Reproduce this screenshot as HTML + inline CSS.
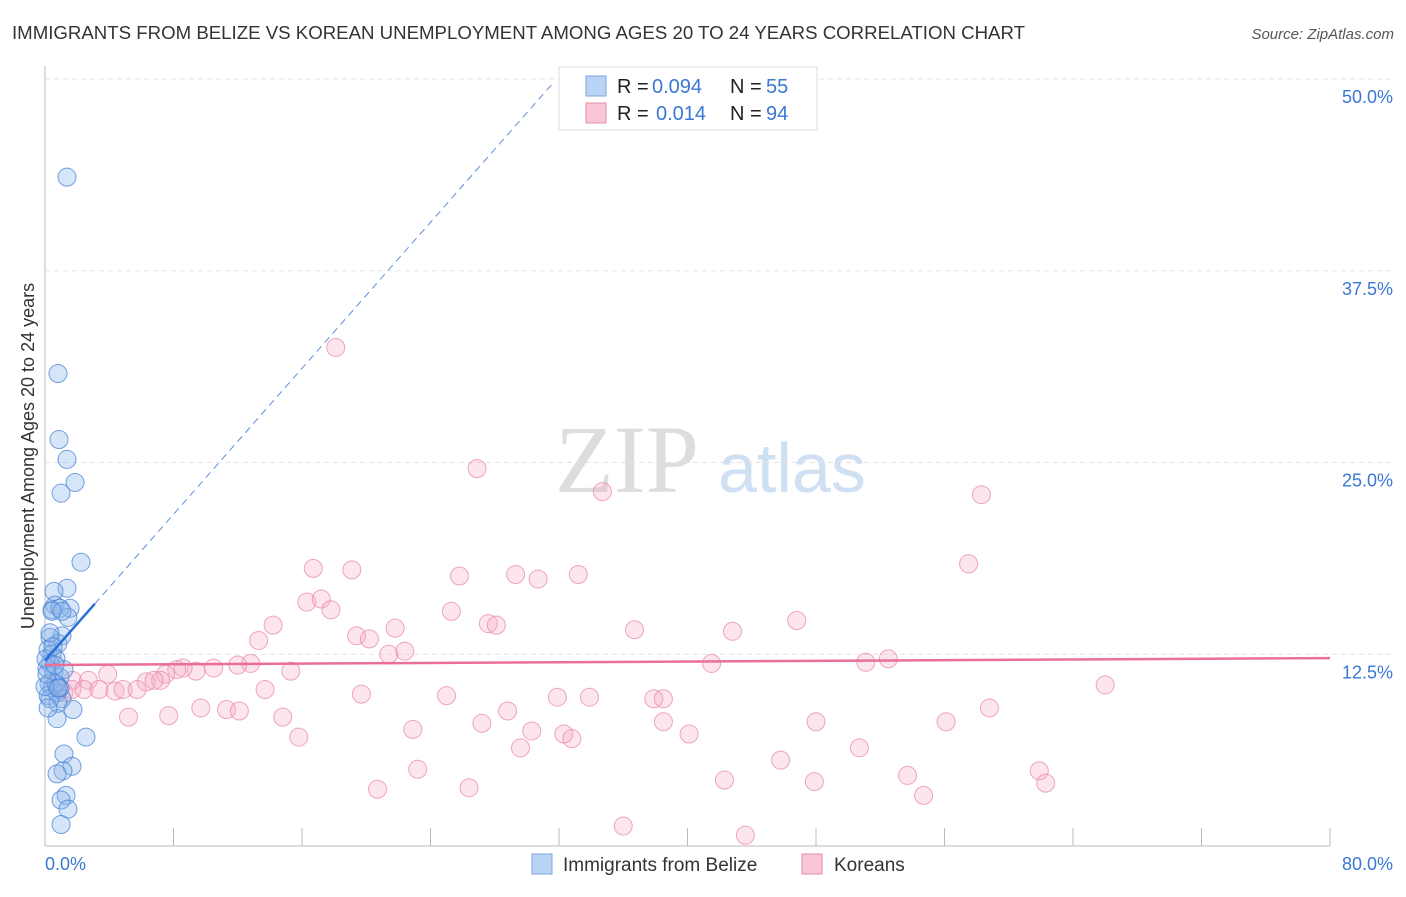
<!DOCTYPE html>
<html><head><meta charset="utf-8"><style>
body{margin:0;background:#fff;font-family:"Liberation Sans",sans-serif}
</style></head><body>
<svg width="1406" height="892" xmlns="http://www.w3.org/2000/svg" id="svg">
<text x="12" y="39" font-size="18" fill="#333" textLength="1013" lengthAdjust="spacingAndGlyphs">IMMIGRANTS FROM BELIZE VS KOREAN UNEMPLOYMENT AMONG AGES 20 TO 24 YEARS CORRELATION CHART</text>
<text x="1394" y="39" font-size="15" fill="#555" font-style="italic" text-anchor="end">Source: ZipAtlas.com</text>
<text x="555" y="492" font-size="96" font-family="Liberation Serif,serif" fill="#ddd">ZIP</text>
<text x="718" y="492" font-size="70" fill="#cfe0f3">atlas</text>
<text transform="translate(34,456) rotate(-90)" font-size="18" fill="#333" text-anchor="middle">Unemployment Among Ages 20 to 24 years</text>
<g id="grid"></g><g id="pts"></g><g id="lines"></g>
<g>
<rect x="559" y="67" width="258" height="63" fill="#fff" stroke="#ddd"/>
<rect x="586" y="76" width="20" height="20" fill="#b9d3f5" stroke="#7aa6e0"/>
<rect x="586" y="103" width="20" height="20" fill="#f9c6d5" stroke="#e88fab"/>
<text x="617" y="93" font-size="20" fill="#222">R =</text>
<text x="652" y="93" font-size="20" fill="#3a78d4">0.094</text>
<text x="730" y="93" font-size="20" fill="#222">N =</text>
<text x="766" y="93" font-size="20" fill="#3a78d4">55</text>
<text x="617" y="120" font-size="20" fill="#222">R =</text>
<text x="656" y="120" font-size="20" fill="#3a78d4">0.014</text>
<text x="730" y="120" font-size="20" fill="#222">N =</text>
<text x="766" y="120" font-size="20" fill="#3a78d4">94</text>
</g>
<g>
<rect x="532" y="854" width="20" height="20" fill="#b9d3f5" stroke="#7aa6e0"/>
<text x="563" y="871" font-size="19" fill="#333">Immigrants from Belize</text>
<rect x="802" y="854" width="20" height="20" fill="#f9c6d5" stroke="#e88fab"/>
<text x="834" y="871" font-size="19" fill="#333">Koreans</text>
</g>
</svg>
<script>
const yTicks=[12.5,25,37.5,50];
const yTickLabels=["12.5%","25.0%","37.5%","50.0%"];
const xEndLabels=["0.0%","80.0%"];
const belizeX=[1.37,0.81,0.87,1.37,1,1.87,2.24,1.37,0.56,0.62,1.56,0.44,0.93,1.43,1.06,0.31,0.81,0.19,0.44,0.68,0.31,0.12,0.56,0.93,0.25,0.44,0.75,0.19,1.06,0.81,1.74,0.75,2.55,1.18,1.68,1.12,0.75,1.31,1,1.43,1,0.31,0.06,0.68,0.31,0.93,0.5,0,0.12,1.18,0.62,0.44,1.06,0.81,0.19];
const belizeY=[43.6,30.8,26.5,25.2,23,23.7,18.5,16.8,16.6,15.7,15.5,15.4,15.5,14.9,13.7,13.6,13.2,12.8,12.5,12.2,11.9,11.6,11.3,11,10.6,10.3,10,9.8,9.6,9.3,8.9,8.3,7.1,6,5.2,4.9,4.7,3.3,3,2.4,1.4,13.9,12.2,10.6,9.6,10.3,13,10.4,11.2,11.5,11.8,15.3,15.3,10.3,9];
const koreaX=[47,18.1,26.9,34.7,58.3,57.5,16.7,19.1,25.8,29.3,30.7,33.2,16.3,17.2,17.8,25.3,27.6,28.1,46.8,14.2,21.8,36.7,42.8,19.4,20.2,13.3,22.4,21.4,51.1,52.5,41.5,15.3,12.8,12,10.5,9.4,8.6,8.2,7.5,7.2,6.3,3.9,2.7,1.7,0.68,0.87,1.18,1.68,2.43,3.36,4.36,4.86,5.73,6.79,13.7,19.7,25,31.9,33.9,37.9,38.5,66,9.7,11.3,12.1,7.7,5.2,14.8,28.8,38.5,27.2,48,56.1,58.8,15.8,22.9,30.3,32.3,32.8,40.1,29.6,50.7,45.8,23.2,61.9,53.7,42.3,47.9,62.3,20.7,26.4,54.7,36,43.6];
const koreaY=[47.5,32.5,24.6,23.1,22.9,18.4,18.1,18,17.6,17.7,17.4,17.7,15.9,16.1,15.4,15.3,14.5,14.4,14.7,14.4,14.2,14.1,14,13.7,13.5,13.4,12.7,12.5,11.98,12.2,11.9,11.4,11.9,11.8,11.6,11.4,11.6,11.5,11.2,10.8,10.7,11.2,10.8,10.8,10.6,10.2,10,10.2,10.2,10.2,10.1,10.2,10.2,10.8,10.2,9.9,9.8,9.7,9.7,9.6,9.6,10.5,9,8.9,8.8,8.5,8.4,8.4,8.8,8.1,8,8.1,8.1,9,7.1,7.6,7.5,7.3,7,7.3,6.4,6.4,5.6,5,4.9,4.6,4.3,4.2,4.1,3.7,3.8,3.3,1.3,0.7];
const X=v=>45+v/80*1285, Y=v=>846-v/50*767;
const NS="http://www.w3.org/2000/svg";
function mk(t,a,p){const e=document.createElementNS(NS,t);for(const k in a)e.setAttribute(k,a[k]);p.appendChild(e);return e;}
const grid=document.getElementById('grid');
mk('line',{x1:45,y1:66,x2:45,y2:846,stroke:'#bbb'},grid);
mk('line',{x1:45,y1:846,x2:1330,y2:846,stroke:'#bbb'},grid);
for(let i=1;i<=10;i++)mk('line',{x1:X(i*8),y1:828,x2:X(i*8),y2:846,stroke:'#bbb'},grid);
yTicks.forEach((t,i)=>{
 const l=mk('line',{x1:45,y1:Y(t),x2:1394,y2:Y(t),stroke:'#e3e3e3','stroke-dasharray':'5,4'},grid);
 
 
 const tx=mk('text',{x:1393,y:Y(t)+24,'font-size':18,fill:'#3a78d4','text-anchor':'end'},grid);
 tx.textContent=yTickLabels[i];
 
 
});
[[45,'start'],[1393,'end']].forEach((p,i)=>{const t=mk('text',{x:p[0],y:870,'font-size':18,fill:'#3a78d4','text-anchor':p[1]},grid);t.textContent=xEndLabels[i];
 
 });
const pts=document.getElementById('pts');
koreaX.forEach((x,i)=>{const c=mk('circle',{cx:X(x),cy:Y(koreaY[i]),r:9,fill:'rgba(246,170,195,0.3)',stroke:'rgba(232,130,165,0.7)','stroke-width':1},pts);
 
 });
belizeX.forEach((x,i)=>{const c=mk('circle',{cx:X(x),cy:Y(belizeY[i]),r:9,fill:'rgba(140,180,235,0.35)',stroke:'rgba(70,130,215,0.75)','stroke-width':1},pts);
 
 });
const lines=document.getElementById('lines');
const bI=12.1,bS=1.19,kI=11.8,kS=0.0056;
let l=mk('line',{x1:X(3.1),y1:Y(bI+bS*3.1),x2:X(31.6),y2:Y(bI+bS*31.6),stroke:'#5d8fd8','stroke-width':1,'stroke-dasharray':'7,5'},lines);


l=mk('line',{x1:X(0),y1:Y(bI),x2:X(3.1),y2:Y(bI+bS*3.1),stroke:'#2b6fd6','stroke-width':2.5},lines);


l=mk('line',{x1:X(0),y1:Y(kI),x2:X(80),y2:Y(kI+kS*80),stroke:'#ea6f98','stroke-width':2.5},lines);


</script>
</body></html>
